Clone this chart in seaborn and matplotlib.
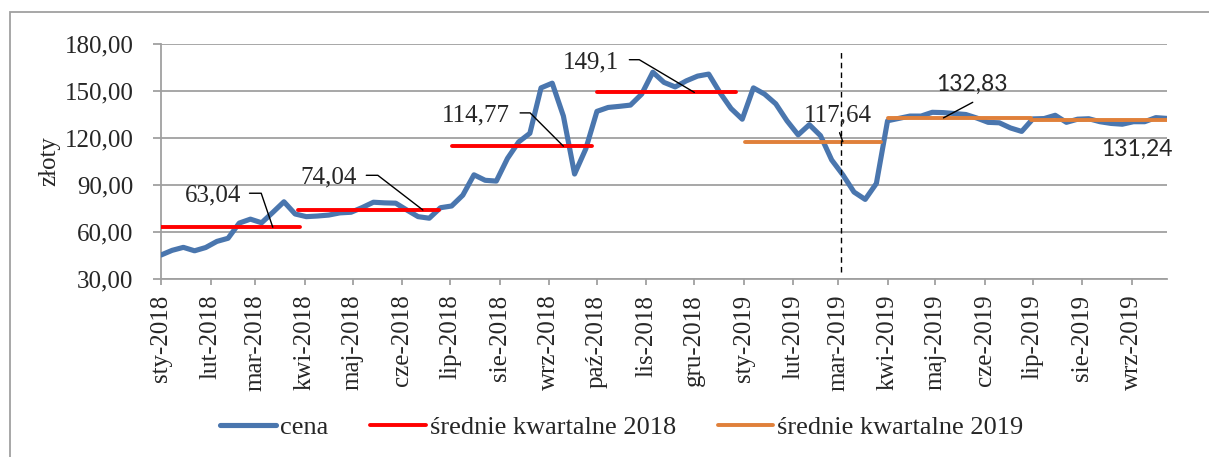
import pandas as pd
import matplotlib.pyplot as plt
from matplotlib.ticker import FuncFormatter
from matplotlib.patches import Rectangle
import seaborn as sns

# ===============================
# Dane
# ===============================
first_week = '2018-01-01'
price = [45.3, 48.3, 50.2, 48.0, 50.1, 54.0, 56.0, 65.7, 68.2, 65.9,
         72.5, 79.3, 71.5, 69.8, 70.2, 70.8, 72.2, 72.6, 75.6, 79.0,
         78.6, 78.4, 74.0, 69.8, 68.8, 75.5, 76.6, 83.5, 96.5, 93.0,
         92.5, 107.0, 117.5, 123.0, 152.0, 155.0, 134.0, 97.0, 113.0, 137.0,
         139.5, 140.2, 141.0, 148.0, 162.0, 155.5, 152.6, 156.5, 159.5, 160.8,
         149.0, 138.8, 132.0, 152.0, 148.0, 141.8, 131.0, 122.0, 128.5, 121.5,
         106.0, 96.5, 85.5, 80.8, 91.0, 131.0, 132.5, 134.0, 134.0, 136.4,
         136.2, 135.6, 135.0, 132.7, 130.0, 129.7, 126.4, 124.2, 132.2, 132.4,
         134.5, 130.0, 132.0, 132.3, 130.4, 129.3, 128.8, 130.4, 130.4, 133.0,
         132.5]

months_pl = ['sty', 'lut', 'mar', 'kwi', 'maj', 'cze',
             'lip', 'sie', 'wrz', 'paź', 'lis', 'gru']

# średnie kwartalne
q_start = ['2018-01-01', '2018-03-28', '2018-07-02', '2018-10-01',
           '2019-01-02', '2019-04-01', '2019-06-30']
q_end = ['2018-03-29', '2018-06-24', '2018-09-28', '2018-12-27',
         '2019-03-28', '2019-06-30', '2019-09-23']
q_mean = [63.04, 74.04, 114.77, 149.1, 117.64, 132.83, 131.24]
q_year = [2018, 2018, 2018, 2018, 2019, 2019, 2019]

event_date = '2019-03-03'

# miejsca etykiet średnich
ann_date = ['2018-03-12', '2018-06-14', '2018-09-10', '2018-12-01',
            '2019-03-04', '2019-05-06', '2019-09-04']

# ===============================
# Przygotowanie danych
# ===============================
weeks = pd.date_range(first_week, periods=len(price), freq='7D')
df = pd.DataFrame({'data': weeks, 'cena': price})

rows = []
for i, (s, e, m, y) in enumerate(zip(q_start, q_end, q_mean, q_year)):
    for d in (s, e):
        rows.append({'seg': i, 'data': pd.Timestamp(d), 'wartosc': m,
                     'seria': f'średnie kwartalne {y}'})
df_avg = pd.DataFrame(rows)

# ===============================
# Wykres
# ===============================
sns.set_style('white')
plt.rcParams['font.family'] = ['Liberation Serif', 'DejaVu Serif']

fig, ax = plt.subplots(figsize=(12.09, 4.57), dpi=100)
fig.subplots_adjust(left=161 / 1209, right=1167 / 1209,
                    top=1 - 44 / 457, bottom=1 - 279 / 457)

grid_col = '#A0A0A0'

sns.lineplot(data=df, x='data', y='cena', ax=ax, color='#4A76AE',
             lw=3.7, label='cena', zorder=3, solid_joinstyle='round',
             solid_capstyle='round')
sns.lineplot(data=df_avg, x='data', y='wartosc', hue='seria', units='seg',
             estimator=None, ax=ax, lw=2.8, zorder=4,
             palette={'średnie kwartalne 2018': '#FF0000',
                      'średnie kwartalne 2019': '#E0803A'})

# linia przerywana
ax.vlines(pd.Timestamp(event_date), 34.5, 175, colors='black', lw=1,
          linestyles=(0, (4, 3)), zorder=5)

ax.set_ylim(30, 180)
ax.set_yticks(range(30, 181, 30))
ax.yaxis.set_major_formatter(FuncFormatter(lambda v, p: f'{v:.2f}'.replace('.', ',')))
ax.set_xlim(weeks[0], weeks[-1])

ticks = pd.date_range('2018-01-01', '2019-09-01', freq='MS')
ax.set_xticks(ticks)
ax.set_xticklabels([f'{months_pl[d.month - 1]}-{d.year}' for d in ticks],
                   rotation=90)

ax.yaxis.grid(True, color=grid_col, lw=1.3)
ax.set_axisbelow(True)
for side in ['top', 'right']:
    ax.spines[side].set_visible(False)
for side in ['left', 'bottom']:
    ax.spines[side].set_color(grid_col)
    ax.spines[side].set_linewidth(1.3)

ax.tick_params(axis='both', bottom=True, left=True, direction='out',
               color=grid_col, width=1.3, labelsize=18)
ax.tick_params(axis='y', length=5.8, pad=14)
ax.tick_params(axis='x', length=4.3, pad=7)

ax.set_xlabel('')
ax.set_ylabel('złoty', fontsize=18)
ax.yaxis.set_label_coords(-0.1, 0.5)

# etykiety średnich z odnośnikami
px = 0.72
layout = [
    (-31.3, 34, 'right', -23.3, 34, 108.8),
    (-66.6, 34.7, 'right', -56.6, 34.7, 142.4),
    (-53.3, 33.3, 'right', -43.3, 33.3, 135),
    (-75, 32.7, 'right', -65, 32.7, 149.3),
    (-5.3, 28.7, 'center', -3.3, 9, None),
    (28, 35.3, 'center', 29.3, 15.6, None),
    (0, -26.6, 'center', None, None, None),
]
for i, (tdx, tdy, ha, ldx, ldy, ang) in enumerate(layout):
    xy = (pd.Timestamp(ann_date[i]), q_mean[i])
    txt = str(q_mean[i]).replace('.', ',')
    if i < 5:
        font = dict(family=['Liberation Serif', 'DejaVu Serif'], size=18)
    else:
        font = dict(family=['Lato', 'DejaVu Sans'], size=16.5)
    ax.annotate(txt, xy=xy, xytext=(tdx * px, tdy * px),
                textcoords='offset points', ha=ha, va='center_baseline',
                zorder=6, **font)
    if ldx is not None:
        style = 'arc3' if ang is None else f'angle,angleA=0,angleB={ang},rad=0'
        ax.annotate('', xy=xy, xytext=(ldx * px, ldy * px),
                    textcoords='offset points', zorder=6,
                    arrowprops=dict(arrowstyle='-', color='black', lw=1,
                                    shrinkA=0, shrinkB=0,
                                    connectionstyle=style))

# legenda
handles, labels = ax.get_legend_handles_labels()
if ax.get_legend() is not None:
    ax.get_legend().remove()
order = ['cena', 'średnie kwartalne 2018', 'średnie kwartalne 2019']
hl = {l: h for h, l in zip(handles, labels)}
fig.legend([hl[l] for l in order], order, loc='center',
           bbox_to_anchor=(622 / 1209, 1 - 427 / 457), ncol=3, frameon=False,
           fontsize=19, handlelength=2.1, handletextpad=0.15,
           columnspacing=1.6)

# ramka wykresu
fig.add_artist(Rectangle((10 / 1209, -0.1), 1.2, (1 - 12 / 457) + 0.1,
                         transform=fig.transFigure, fill=False,
                         edgecolor=grid_col, lw=1.3))

fig.savefig('out.png', dpi=100)
